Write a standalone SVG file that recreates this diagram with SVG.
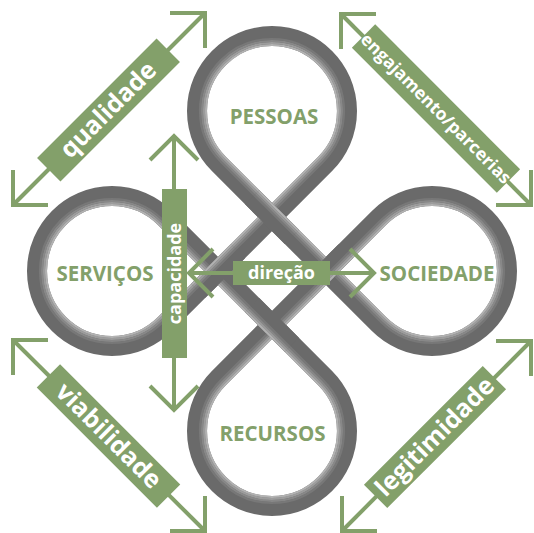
<svg xmlns="http://www.w3.org/2000/svg" xmlns:xlink="http://www.w3.org/1999/xlink" width="534" height="533" viewBox="0 0 534 533">
  <style>
    .base { fill: none; stroke: #6a6a6a; stroke-width: 20; }
    .h1 { fill: none; stroke: #b2b2b2; stroke-width: 2.2; }
    .h2 { fill: none; stroke: #9c9c9c; stroke-width: 2.2; }
    .h3 { fill: none; stroke: #888888; stroke-width: 2.2; }
    .h4 { fill: none; stroke: #787878; stroke-width: 2.2; }
    .shaft { fill: none; stroke: #83a06a; stroke-width: 4; }
    .head { fill: none; stroke: #83a06a; stroke-width: 4; stroke-linejoin: miter; }
    .box { fill: #83a06a; }
    .lbl { fill: #ffffff; font-family: "Open Sans", "Noto Sans", sans-serif; font-weight: 700; text-anchor: middle; }
    .node { fill: #83a06a; font-family: "Open Sans", "Noto Sans", sans-serif; font-weight: 700; font-size: 20.5px; text-anchor: middle; }
  </style>
  <defs>
    <g id="seg">
      <line class="base" x1="-28" y1="0" x2="28" y2="0"/>
      <line class="h1" x1="-28" y1="-9" x2="28" y2="-9"/>
      <line class="h2" x1="-28" y1="-7" x2="28" y2="-7"/>
      <line class="h3" x1="-28" y1="-5" x2="28" y2="-5"/>
      <line class="h4" x1="-28" y1="-3" x2="28" y2="-3"/>
    </g>
  </defs>

  <g id="knot">
    <path class="base" d="M325.033,164.033 A75,75 0 1 0 218.967,164.033 L378.967,324.033 A75,75 0 1 0 378.967,217.967 L218.967,377.967 A75,75 0 1 0 325.033,377.967 L165.033,217.967 A75,75 0 1 0 165.033,324.033 Z"/>
    <path class="h1" d="M318.669,157.669 A66,66 0 1 0 225.331,157.669 L385.331,317.669 A66,66 0 1 0 385.331,224.331 L225.331,384.331 A66,66 0 1 0 318.669,384.331 L158.669,224.331 A66,66 0 1 0 158.669,317.669 Z"/>
    <path class="h2" d="M320.083,159.083 A68,68 0 1 0 223.917,159.083 L383.917,319.083 A68,68 0 1 0 383.917,222.917 L223.917,382.917 A68,68 0 1 0 320.083,382.917 L160.083,222.917 A68,68 0 1 0 160.083,319.083 Z"/>
    <path class="h3" d="M321.497,160.497 A70,70 0 1 0 222.503,160.497 L382.503,320.497 A70,70 0 1 0 382.503,221.503 L222.503,381.503 A70,70 0 1 0 321.497,381.503 L161.497,221.503 A70,70 0 1 0 161.497,320.497 Z"/>
    <path class="h4" d="M322.912,161.912 A72,72 0 1 0 221.088,161.912 L381.088,321.912 A72,72 0 1 0 381.088,220.088 L221.088,380.088 A72,72 0 1 0 322.912,380.088 L162.912,220.088 A72,72 0 1 0 162.912,321.912 Z"/>
    <use xlink:href="#seg" href="#seg" transform="translate(272,217.066) rotate(45)"/>
    <use xlink:href="#seg" href="#seg" transform="translate(325.934,271) rotate(135)"/>
    <use xlink:href="#seg" href="#seg" transform="translate(272,324.934) rotate(225)"/>
    <use xlink:href="#seg" href="#seg" transform="translate(218.066,271) rotate(-45)"/>
  </g>

  <g id="node-pessoas"><text class="node" x="274" y="124">PESSOAS</text></g>
  <g id="node-servicos"><text class="node" x="105" y="281">SERVIÇOS</text></g>
  <g id="node-sociedade"><text class="node" x="437" y="281">SOCIEDADE</text></g>
  <g id="node-recursos"><text class="node" x="272.5" y="441">RECURSOS</text></g>

  <g id="connectors">
    <g id="arrow-qualidade">
      <line class="shaft" x1="13" y1="205" x2="205" y2="13"/>
      <polyline class="head" points="170,13 205,13 205,48"/>
      <polyline class="head" points="13,170 13,205 48,205"/>
      <g transform="translate(108.5,110) rotate(-45)">
        <rect class="box" x="-84.5" y="-16.5" width="169" height="33"/>
        <text class="lbl" x="0" y="8" font-size="25">qualidade</text>
      </g>
    </g>
    <g id="arrow-engajamento">
      <line class="shaft" x1="341" y1="14" x2="531" y2="205"/>
      <polyline class="head" points="376,14 341,14 341,49"/>
      <polyline class="head" points="496,205 531,205 531,170"/>
      <g transform="translate(436,108.5) rotate(45)">
        <rect class="box" x="-102.5" y="-16.5" width="205" height="33"/>
        <text class="lbl" x="0" y="6" font-size="17.5">engajamento/parcerias</text>
      </g>
    </g>
    <g id="arrow-viabilidade">
      <line class="shaft" x1="13" y1="340" x2="205" y2="531"/>
      <polyline class="head" points="48,340 13,340 13,375"/>
      <polyline class="head" points="170,531 205,531 205,496"/>
      <g transform="translate(108.5,436) rotate(45)">
        <rect class="box" x="-85" y="-16.5" width="170" height="33"/>
        <text class="lbl" x="0" y="8" font-size="25">viabilidade</text>
      </g>
    </g>
    <g id="arrow-legitimidade">
      <line class="shaft" x1="342" y1="531" x2="531" y2="341"/>
      <polyline class="head" points="496,341 531,341 531,376"/>
      <polyline class="head" points="342,496 342,531 377,531"/>
      <g transform="translate(435,437) rotate(-45)">
        <rect class="box" x="-84" y="-16.5" width="168" height="33"/>
        <text class="lbl" x="0" y="8" font-size="25">legitimidade</text>
      </g>
    </g>
    <g id="arrow-capacidade">
      <line class="shaft" x1="174" y1="136" x2="174" y2="410"/>
      <polyline class="head" points="150,160 174,136 198,160"/>
      <polyline class="head" points="150,386 174,410 198,386"/>
      <rect class="box" x="162" y="189" width="25" height="169"/>
      <text class="lbl" transform="translate(174.5,273.5) rotate(-90)" x="0" y="6" font-size="18">capacidade</text>
    </g>
    <g id="arrow-direcao">
      <line class="shaft" x1="189" y1="273" x2="374" y2="273"/>
      <polyline class="head" points="213,249 189,273 213,297"/>
      <polyline class="head" points="350,249 374,273 350,297"/>
      <rect class="box" x="233" y="261" width="97" height="24"/>
      <text class="lbl" x="281.5" y="279" font-size="18">direção</text>
    </g>
  </g>
</svg>
